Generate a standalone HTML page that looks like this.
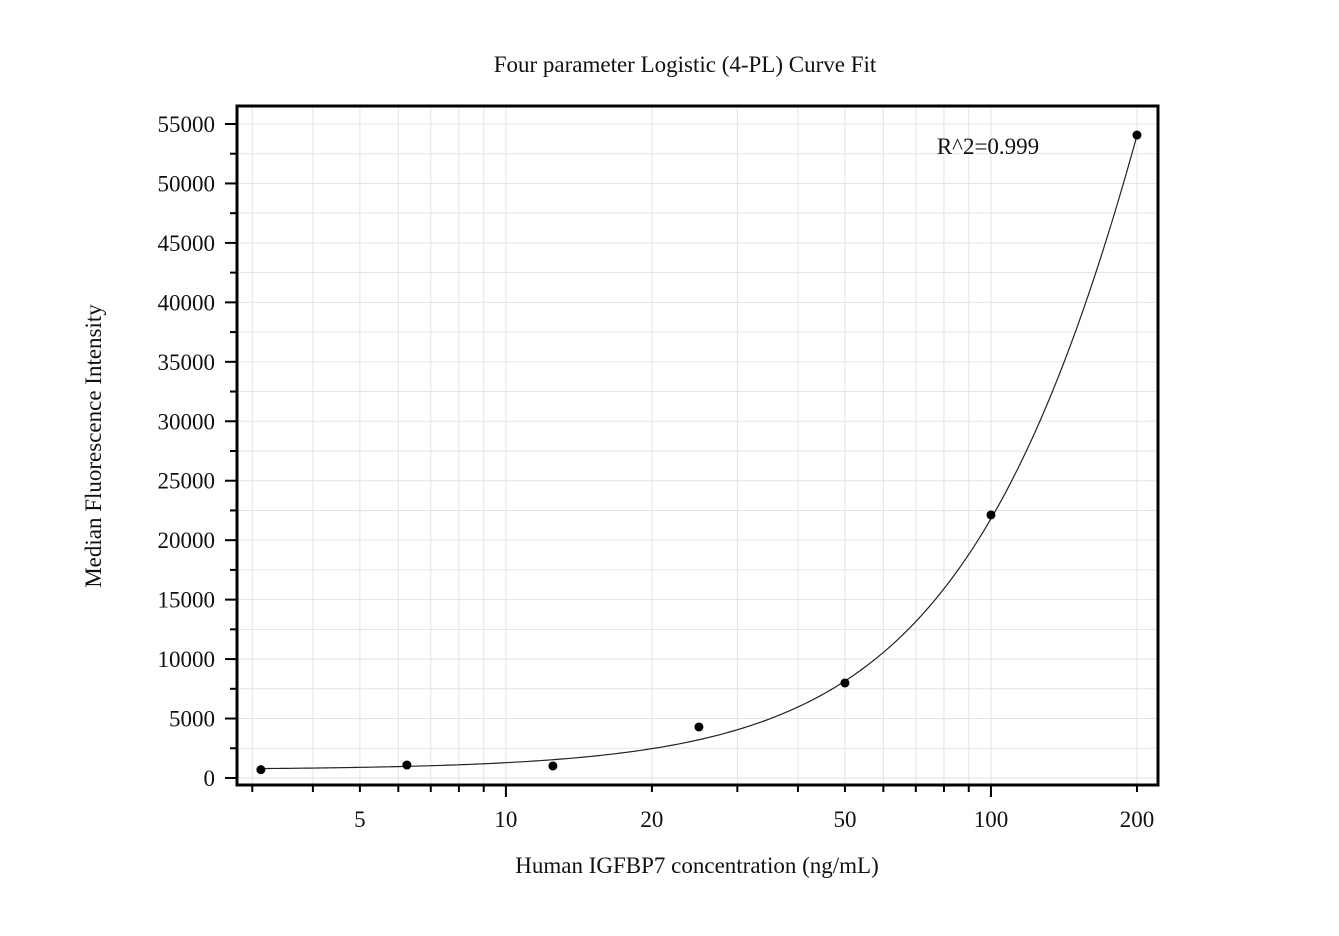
<!DOCTYPE html>
<html><head><meta charset="utf-8"><style>
body{margin:0;background:#fff;}
svg text{font-family:"Liberation Serif",serif;fill:#111;}
</style></head><body>
<svg id="chart" width="1339" height="931" viewBox="0 0 1339 931" xmlns="http://www.w3.org/2000/svg">
<text x="685" y="72" font-size="23" text-anchor="middle">Four parameter Logistic (4-PL) Curve Fit</text>
<text x="697" y="873" font-size="23" text-anchor="middle">Human IGFBP7 concentration (ng/mL)</text>
<text transform="translate(101,446) rotate(-90)" font-size="23" text-anchor="middle">Median Fluorescence Intensity</text>
<g id="grid"></g>
<g id="axes"></g>
<g id="series"></g>
<text x="988" y="154" font-size="23" text-anchor="middle">R^2=0.999</text>
</svg>
<script>
const concentrations=[3.125,6.25,12.5,25,50,100,200];
const mfiValues=[700,1090,1010,4290,7990,22120,54070];
const xTickLabels=[5,10,20,50,100,200];
const yTickLabels=[0,5000,10000,15000,20000,25000,30000,35000,40000,45000,50000,55000];
const fitA=700, fitD=215700, fitC=400, fitB=1.6;

const NS="http://www.w3.org/2000/svg";
const L=237,R=1158,T=106,B=785;
const xMinLog=Math.log10(2.79), xMaxLog=Math.log10(221);
const yMin=-590, yMax=56514;
function xs(v){return L+(Math.log10(v)-xMinLog)/(xMaxLog-xMinLog)*(R-L);}
function ys(v){return B-(v-yMin)/(yMax-yMin)*(B-T);}
function mk(tag,attrs,parent){const e=document.createElementNS(NS,tag);for(const k in attrs)e.setAttribute(k,attrs[k]);parent.appendChild(e);return e;}
const grid=document.getElementById('grid'),axes=document.getElementById('axes'),series=document.getElementById('series');

// x grid + ticks
const xMinor=[];
for(let d=1;d<=100;d*=10)for(let m=1;m<10;m++){const v=m*d;if(v>=2.79&&v<=221)xMinor.push(v);}
xMinor.forEach(v=>{
  const x=xs(v);
  const g=mk('line',{x1:x,x2:x,y1:T,y2:B,stroke:'#e3e3e3','stroke-width':1},grid);
  
  const major=(v===10||v===100);
  const t=mk('line',{x1:x,x2:x,y1:B,y2:B+(major?12:7),stroke:'#000','stroke-width':2},axes);
  
});
xTickLabels.forEach(v=>{
  const t=mk('text',{x:xs(v),y:B+42,'font-size':23,'text-anchor':'middle'},axes);
  t.textContent=v;
  
});
// y grid + ticks
for(let v=0;v<=yMax;v+=2500){
  const y=ys(v);
  const g=mk('line',{x1:L,x2:R,y1:y,y2:y,stroke:'#e3e3e3','stroke-width':1},grid);
  
  const major=v%5000===0;
  const t=mk('line',{x1:L-(major?12:7),x2:L,y1:y,y2:y,stroke:'#000','stroke-width':2},axes);
  
}
yTickLabels.forEach(v=>{
  const t=mk('text',{x:L-22,y:ys(v)+8,'font-size':23,'text-anchor':'end'},axes);
  t.textContent=v;
  
});
const frame=mk('rect',{x:L,y:T,width:R-L,height:B-T,fill:'none',stroke:'#000','stroke-width':3},axes);


// fit curve
function fit(x){return fitD+(fitA-fitD)/(1+Math.pow(x/fitC,fitB));}
let d='';
const lo=Math.log10(concentrations[0]),hi=Math.log10(concentrations[concentrations.length-1]);
for(let i=0;i<=200;i++){const x=Math.pow(10,lo+(hi-lo)*i/200);d+=(i?'L':'M')+xs(x).toFixed(2)+','+ys(fit(x)).toFixed(2);}
const curve=mk('path',{d:d,fill:'none',stroke:'#222','stroke-width':1.2},series);

concentrations.forEach((c,i)=>{
  const p=mk('circle',{cx:xs(c),cy:ys(mfiValues[i]),r:4.5,fill:'#000'},series);
  
});
</script>
</body></html>
